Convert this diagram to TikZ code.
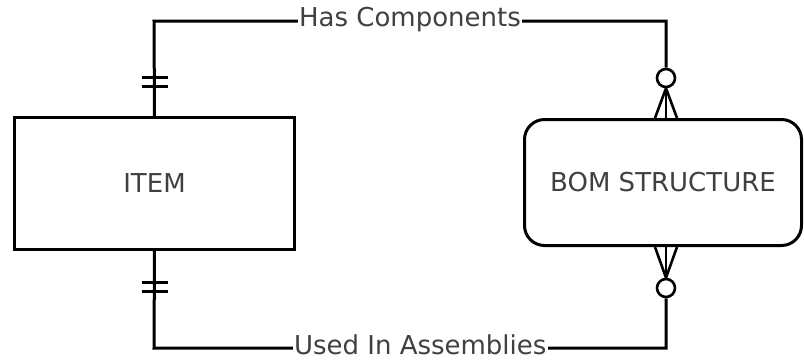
\documentclass[tikz,border=0pt]{standalone}
\usepackage{fontspec}
\setmainfont{DejaVu Sans}
\usetikzlibrary{calc}
\tikzset{
    entity/.style={draw=black, text=black!75, line width=3pt, font=\fontsize{26}{30}\selectfont},
    rel/.style={line width=3pt},
    rellabel/.style={fill=white, text=black!75, inner sep=1.5pt, font=\fontsize{26}{30}\selectfont},
    zero/.style={shape=circle, draw=black, fill=white, line width=2.6pt, inner sep=0pt, minimum size=18pt}}

\begin{document}
\begin{tikzpicture}[x=1pt, y=-1pt]
\useasboundingbox (0,0) rectangle (804,360);

            \node[entity, minimum width=280, minimum height=132] (I) at (154.5,183.5) {ITEM};
            \node[entity, rounded corners=20pt, minimum width=277, minimum height=126] (B) at (663,182.5) {BOM STRUCTURE};

            \node[zero] (Z1) at (666,78) {};
            \node[zero] (Z2) at (666,288) {};

            \coordinate (T1) at (154,21);
            \coordinate (T2) at (666,21);
            \coordinate (U1) at (154,348);
            \coordinate (U2) at (666,348);

            % Has Components
            \draw[rel] (I.north) -- (T1) -- (T2) node[rellabel, midway, yshift=1pt] {Has Components} -- (Z1);
            \draw[rel] (I.north |- 0,77) ++(-13,0) -- ++(26,0);
            \draw[rel] (I.north |- 0,86) ++(-13,0) -- ++(26,0);
            \draw[line width=2.6pt] (Z1.south) -- (B.north -| Z1);
            \draw[line width=2.6pt] (Z1.south) -- ($(B.north -| Z1)+(-11,0)$);
            \draw[line width=2.6pt] (Z1.south) -- ($(B.north -| Z1)+(11,0)$);

            % Used In Assemblies
            \draw[rel] (I.south) -- (U1) -- (U2) node[rellabel, pos=0.52, yshift=3pt] {Used In Assemblies} -- (Z2);
            \draw[rel] (I.south |- 0,282) ++(-13,0) -- ++(26,0);
            \draw[rel] (I.south |- 0,291) ++(-13,0) -- ++(26,0);
            \draw[line width=2.6pt] (Z2.north) -- (B.south -| Z2);
            \draw[line width=2.6pt] (Z2.north) -- ($(B.south -| Z2)+(-11,0)$);
            \draw[line width=2.6pt] (Z2.north) -- ($(B.south -| Z2)+(11,0)$);

\end{tikzpicture}
\end{document}
